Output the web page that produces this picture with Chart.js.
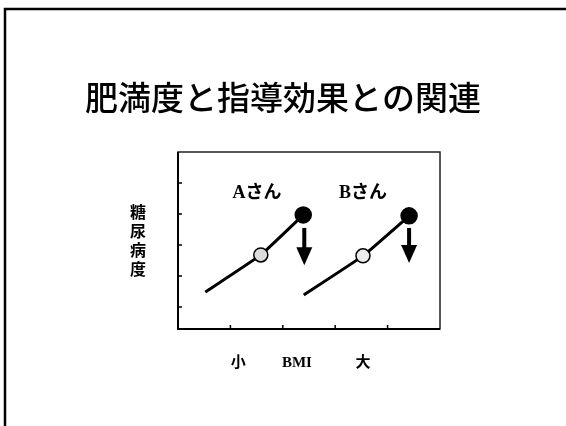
<!DOCTYPE html>
<html>
<head>
<meta charset="utf-8">
<script src="https://cdn.jsdelivr.net/npm/chart.js@4/dist/chart.umd.min.js"></script>
<style>
html,body{margin:0;padding:0;background:#fff;}
#wrap{position:relative;width:566px;height:426px;}
</style>
</head>
<body>
<div id="wrap"><canvas id="c" width="566" height="426"></canvas></div>
<script>
// ---- data ----
const titleText = '肥満度と指導効果との関連';
const yTitle = ['糖','尿','病','度'];
const xLabels = ['小', 'BMI', '大'];
const xLabelAt = [1.15, 2.27, 3.53];
const seriesNames = ['Aさん', 'Bさん'];
const nameX = [1.51, 3.53];
const nameY = [4.68, 4.68];
const seriesAx = [0.52, 1.58, 2.39];
const seriesAy = [1.48, 2.68, 3.97];
const seriesBx = [2.40, 3.53, 4.41];
const seriesBy = [1.39, 2.65, 3.94];
const arrowX = [2.41, 4.41];
const arrowFrom = [3.55, 3.55];
const arrowTo = [2.35, 2.42];
const xTicks = [1, 2, 3, 4];
const yTicks = [1, 2, 3, 4, 5];

const toPts = (xs, ys) => xs.map((x, i) => ({x: x, y: ys[i]}));

const deco = {
  id: 'deco',
  beforeDraw(chart) {
    const ctx = chart.ctx;
    ctx.save();
    ctx.fillStyle = '#fff';
    ctx.fillRect(0, 0, chart.width, chart.height);
    // slide frame
    ctx.strokeStyle = '#000';
    ctx.lineWidth = 2.5;
    ctx.beginPath();
    ctx.moveTo(5, 426);
    ctx.lineTo(5, 9);
    ctx.lineTo(566, 9);
    ctx.stroke();
    ctx.restore();
  },
  afterDatasetsDraw(chart) {
    const ctx = chart.ctx;
    const xs = chart.scales.x, ys = chart.scales.y;
    const a = chart.chartArea;
    ctx.save();
    // plot frame
    ctx.strokeStyle = '#222';
    ctx.lineWidth = 1.5;
    ctx.strokeRect(a.left, a.top, a.right - a.left, a.bottom - a.top);
    ctx.strokeStyle = '#000';
    ctx.lineWidth = 2;
    ctx.beginPath();
    ctx.moveTo(a.left, a.top); ctx.lineTo(a.left, a.bottom); ctx.lineTo(a.right, a.bottom);
    ctx.stroke();
    // inward ticks
    ctx.lineWidth = 1.5;
    ctx.beginPath();
    xTicks.forEach(v => { const px = xs.getPixelForValue(v); ctx.moveTo(px, a.bottom); ctx.lineTo(px, a.bottom - 4); });
    yTicks.forEach(v => { const py = ys.getPixelForValue(v); ctx.moveTo(a.left, py); ctx.lineTo(a.left + 4, py); });
    ctx.stroke();
    // arrows
    ctx.fillStyle = '#000';
    arrowX.forEach((v, i) => {
      const px = xs.getPixelForValue(v);
      const y0 = ys.getPixelForValue(arrowFrom[i]);
      const y1 = ys.getPixelForValue(arrowTo[i]);
      const headH = 18, headW = 8;
      ctx.fillRect(px - 2, y0, 4, (y1 - headH) - y0 + 1);
      ctx.beginPath();
      ctx.moveTo(px - headW, y1 - headH);
      ctx.lineTo(px + headW, y1 - headH);
      ctx.lineTo(px, y1);
      ctx.closePath();
      ctx.fill();
    });
    // series names
    ctx.textAlign = 'center';
    ctx.textBaseline = 'middle';
    ctx.font = 'bold 18px "Liberation Serif", "Noto Sans CJK JP"';
    seriesNames.forEach((s, i) => ctx.fillText(s, xs.getPixelForValue(nameX[i]), ys.getPixelForValue(nameY[i])));
    // x labels
    ctx.font = 'bold 15px "Liberation Serif", "Noto Sans CJK JP"';
    xLabels.forEach((s, i) => ctx.fillText(s, xs.getPixelForValue(xLabelAt[i]), a.bottom + 34));
    // y title vertical
    ctx.font = 'bold 16px "Noto Sans CJK JP"';
    const midY = (a.top + a.bottom) / 2;
    yTitle.forEach((ch, i) => ctx.fillText(ch, a.left - 40, midY - 28.5 + i * 19));
    // title
    ctx.font = '500 33px "Noto Sans CJK JP"';
    ctx.fillText(titleText, 283, 97);
    ctx.restore();
  }
};

new Chart(document.getElementById('c'), {
  type: 'scatter',
  data: {
    datasets: [
      { label: seriesNames[0], data: toPts(seriesAx, seriesAy), showLine: true, borderColor: '#000', borderWidth: 3,
        pointRadius: [0, 7, 8], pointBackgroundColor: ['#000', '#dcdcdc', '#000'], pointBorderColor: '#000', pointBorderWidth: 1.5, tension: 0.1 },
      { label: seriesNames[1], data: toPts(seriesBx, seriesBy), showLine: true, borderColor: '#000', borderWidth: 3,
        pointRadius: [0, 7, 8], pointBackgroundColor: ['#000', '#ececec', '#000'], pointBorderColor: '#000', pointBorderWidth: 1.5, tension: 0.1 }
    ]
  },
  options: {
    responsive: false,
    animation: false,
    devicePixelRatio: 1,
    layout: { padding: { left: 178, right: 126, top: 152, bottom: 97 } },
    scales: {
      x: { type: 'linear', min: 0, max: 5, display: false },
      y: { type: 'linear', min: 0.29, max: 6, display: false }
    },
    plugins: { legend: { display: false }, tooltip: { enabled: false }, title: { display: false } },
    clip: false
  },
  plugins: [deco]
});
</script>
</body>
</html>
